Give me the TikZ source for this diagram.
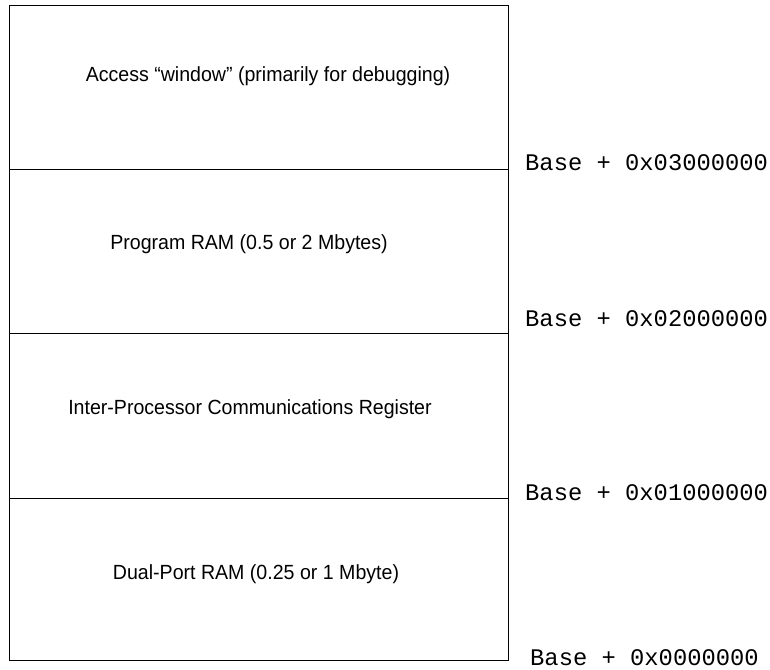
\documentclass[tikz,border=0pt]{standalone}
\usepackage{fontspec}
\setmainfont{Liberation Sans}[FakeStretch=0.955]
\newfontfamily\monof{Liberation Mono}
\begin{document}
\begin{tikzpicture}[x=1pt,y=-1pt,
  region/.style={anchor=base,inner sep=0pt,font=\fontsize{20.5}{24}\selectfont},
  addr/.style={anchor=base west,inner sep=0pt,font=\monof\fontsize{23.8}{26}\selectfont},
  frame/.style={draw=black,line width=1pt}]
\useasboundingbox (0,0) rectangle (770,669);
\coordinate (tl) at (9.5,6);
\coordinate (br) at (508.5,660);
\draw[frame] (tl) rectangle (br);
\coordinate (d3l) at (9.5,169.5); \coordinate (d3r) at (508.5,169.5);
\coordinate (d2l) at (9.5,333); \coordinate (d2r) at (508.5,333);
\coordinate (d1l) at (9.5,498); \coordinate (d1r) at (508.5,498);
\draw[frame] (d3l) -- (d3r);
\draw[frame] (d2l) -- (d2r);
\draw[frame] (d1l) -- (d1r);
\node[region] (win) at (268,81.7) {Access “window” (primarily for debugging)};
\node[region] (prog) at (249,249) {Program RAM (0.5 or 2 Mbytes)};
\node[region] (ipc) at (250,414) {Inter-Processor Communications Register};
\node[region] (dp) at (256,579) {Dual-Port RAM (0.25 or 1 Mbyte)};
\node[addr] (a3) at (525,170.5) {Base + 0x03000000};
\node[addr] (a2) at (525,326) {Base + 0x02000000};
\node[addr] (a1) at (525,500.5) {Base + 0x01000000};
\node[addr] (a0) at (530,665) {Base + 0x0000000};
\end{tikzpicture}
\end{document}
